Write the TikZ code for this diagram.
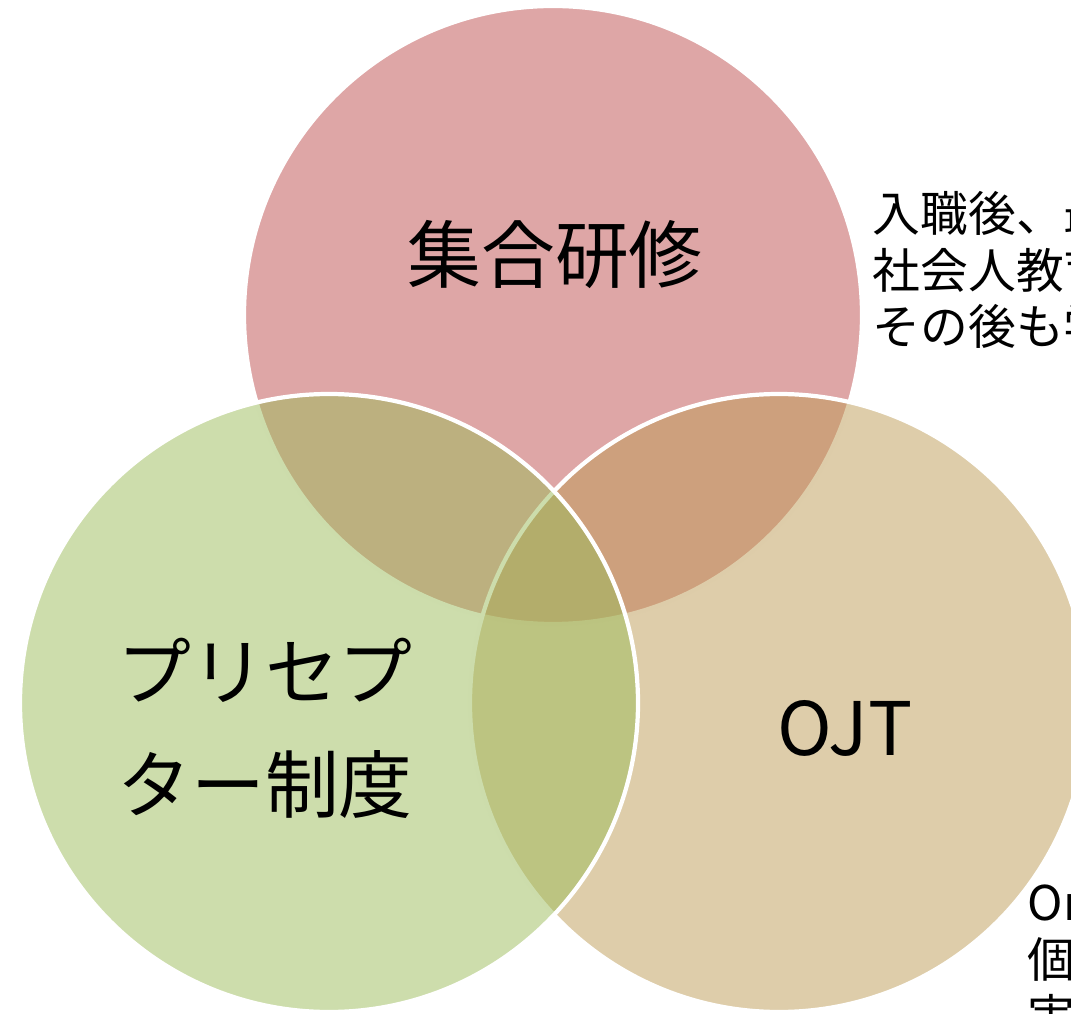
\documentclass[tikz,border=0pt]{standalone}
\usepackage{fontspec}
\setmainfont{Noto Sans CJK JP}
\definecolor{shuugou}{HTML}{BD4D4D}
\definecolor{ojt}{HTML}{BD9B55}
\definecolor{precep}{HTML}{9BBB59}
\begin{document}
\begin{tikzpicture}[ring/.style={draw=white, line width=1.2pt, fill opacity=.5},
    big/.style={font=\fontsize{21pt}{32pt}\selectfont, inner sep=0pt},
    note/.style={font=\fontsize{13.6pt}{16.2pt}\selectfont, align=left, anchor=base west, inner sep=0pt}]
\clip (0,0) rectangle (10.71,10.13);
% three circles, the last one on top
\foreach \c/\x/\y in {shuugou/5.53/6.98, ojt/7.79/3.10, precep/3.29/3.10}
{
    \draw[ring, fill=\c](\x,\y) circle (3.09);
}
\node (shuugou) at (5.55,7.58)[big]{集合研修};
\node (precep) at (2.65,2.845)[big, align=left]{プリセプ\\ター制度};
\node (ojt) at (8.45,2.85)[big]{OJT};
% notes running off the page (base = last line)
\node (shuugounote) at (8.72,6.68)[note]{入職後、最初の\\社会人教育\\その後も学習};
\node (ojtnote) at (10.27,-0.21)[note]{On the Job Training\\個別指導\\実践};
\end{tikzpicture}
\end{document}
